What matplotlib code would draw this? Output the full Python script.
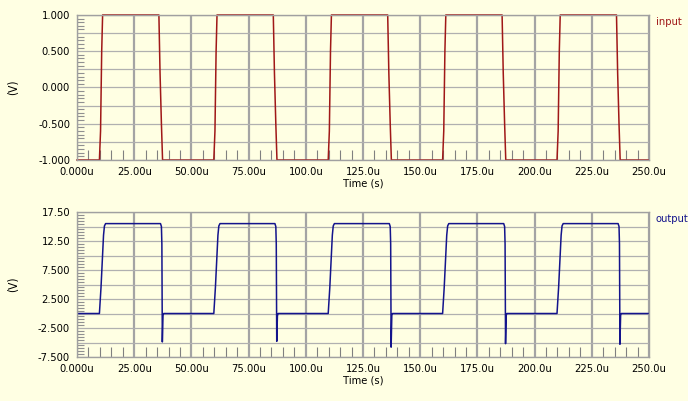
import matplotlib
matplotlib.use("Agg")
import matplotlib.pyplot as plt
from matplotlib.ticker import MultipleLocator, FuncFormatter
from matplotlib import font_manager

# input waveform (time in us, volts)
in_t = [0, 9.8, 10.3, 10.8, 11.2, 35.8, 36.3, 36.9, 37.4,
        59.8, 60.3, 60.8, 61.2, 85.8, 86.3, 86.9, 87.4,
        109.8, 110.3, 110.8, 111.2, 135.8, 136.3, 136.9, 137.4,
        159.8, 160.3, 160.8, 161.2, 185.8, 186.3, 186.9, 187.4,
        209.8, 210.3, 210.8, 211.2, 235.8, 236.3, 236.9, 237.4, 250]
in_v = [-1, -1, -0.6, 0.5, 1, 1, 0.2, -0.5, -1,
        -1, -0.6, 0.5, 1, 1, 0.2, -0.5, -1,
        -1, -0.6, 0.5, 1, 1, 0.2, -0.5, -1,
        -1, -0.6, 0.5, 1, 1, 0.2, -0.5, -1,
        -1, -0.6, 0.5, 1, 1, 0.2, -0.5, -1, -1]

# output waveform
out_t = [0, 9.8, 10.5, 11.6, 12.0, 12.5, 36.5, 36.9, 37.1, 37.3, 37.6, 37.9,
         59.8, 60.5, 61.6, 62.0, 62.5, 86.5, 86.9, 87.1, 87.3, 87.6, 87.9,
         109.8, 110.5, 111.6, 112.0, 112.5, 136.5, 136.9, 137.1, 137.3, 137.6, 137.9,
         159.8, 160.5, 161.6, 162.0, 162.5, 186.5, 186.9, 187.1, 187.3, 187.6, 187.9,
         209.8, 210.5, 211.6, 212.0, 212.5, 236.5, 236.9, 237.1, 237.3, 237.6, 237.9,
         250]
out_v = [0, 0, 4.5, 13.5, 15.1, 15.5, 15.5, 15.0, 12.0, -4.9, -0.3, 0,
         0, 4.5, 13.5, 15.1, 15.5, 15.5, 15.0, 12.0, -4.8, -0.4, 0,
         0, 4.5, 13.5, 15.1, 15.5, 15.5, 15.0, 12.0, -5.8, -0.3, 0,
         0, 4.5, 13.5, 15.1, 15.5, 15.5, 15.0, 12.0, -5.2, -0.3, 0,
         0, 4.5, 13.5, 15.1, 15.5, 15.5, 15.0, 12.0, -5.3, -0.3, 0,
         0]

bg = "#ffffe3"
names = set(f.name for f in font_manager.fontManager.ttflist)
if "Liberation Sans Narrow" in names:
    plt.rcParams["font.family"] = ["Liberation Sans Narrow", "DejaVu Sans"]
else:
    plt.rcParams["font.family"] = ["DejaVu Sans"]
    plt.rcParams["font.stretch"] = "condensed"
FS = 8


def fmt4(v, pos=None):
    a = abs(v)
    if a >= 100:
        return "%.1f" % v
    if a >= 10:
        return "%.2f" % v
    return "%.3f" % v


def style_axes(ax, ylo, yhi, ygrid, ylab, yminor):
    ax.set_facecolor(bg)
    ax.set_xlim(0, 250)
    ax.set_ylim(ylo, yhi)
    ax.xaxis.set_major_locator(MultipleLocator(25))
    ax.xaxis.set_minor_locator(MultipleLocator(5))
    ax.xaxis.set_major_formatter(FuncFormatter(lambda v, p: fmt4(v) + "u"))
    ax.yaxis.set_major_locator(MultipleLocator(ygrid))
    ax.yaxis.set_minor_locator(MultipleLocator(yminor))
    ax.yaxis.set_major_formatter(FuncFormatter(
        lambda v, p: fmt4(v) if abs(round((v - ylo) / ylab) * ylab - (v - ylo)) < 1e-6 else ""))
    ax.tick_params(which="major", length=0, labelsize=FS, pad=5, colors="black")
    ax.tick_params(axis="x", which="minor", direction="in", length=7, color="#808080", width=0.8)
    ax.tick_params(axis="y", which="minor", direction="in", length=5, color="#909090", width=0.8)
    ax.grid(axis="x", which="major", color="#a4a4a4", lw=1.6)
    ax.grid(axis="y", which="major", color="#b0b0b0", lw=0.9)
    for s in ax.spines.values():
        s.set_color("#a0a0a0")
        s.set_linewidth(1.0)
    ax.set_ylabel("(V)", fontsize=FS + 0.5)
    ax.yaxis.set_label_coords(-0.1, 0.5)
    ax.set_xlabel("Time (s)", fontsize=FS, labelpad=1)


fig = plt.figure(figsize=(6.88, 4.01), dpi=100, facecolor=bg)
ax1 = fig.add_axes([0.1119, 0.601, 0.8314, 0.3616])
ax2 = fig.add_axes([0.1119, 0.1097, 0.8314, 0.3616])

style_axes(ax1, -1.0, 1.0, 0.25, 0.5, 0.05)
ax1.plot(in_t, in_v, color="#a01818", lw=1.1, clip_on=False)
fig.text(0.953, 0.946, "input", color="#a01818", fontsize=FS, va="center")

style_axes(ax2, -7.5, 17.5, 2.5, 5.0, 0.5)
ax2.plot(out_t, out_v, color="#14148c", lw=1.1)
fig.text(0.953, 0.455, "output", color="#14148c", fontsize=FS, va="center")

fig.savefig("out.png", dpi=100, facecolor=bg)
